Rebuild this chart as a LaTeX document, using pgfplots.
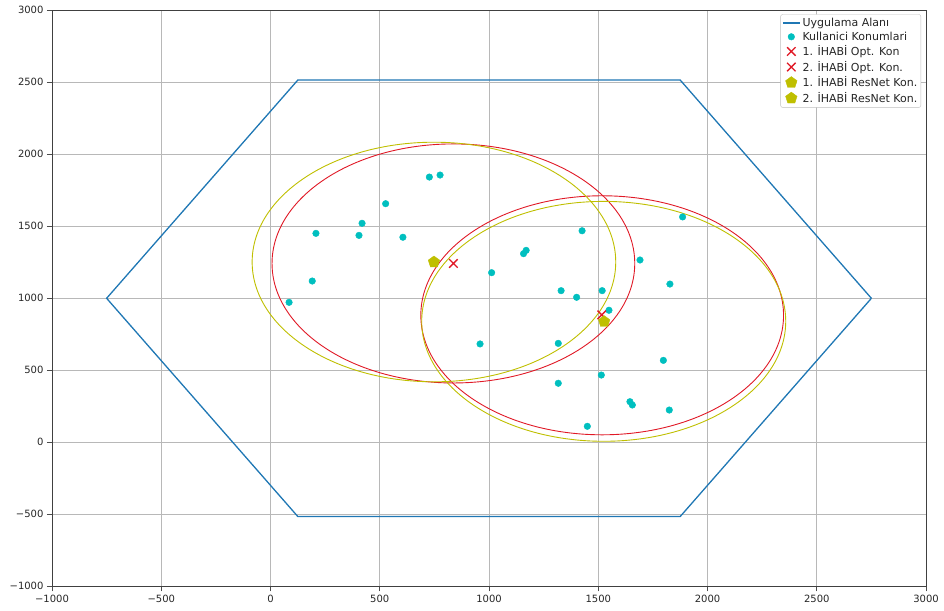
\documentclass[border=0pt]{standalone}
\usepackage{pgfplots}
\pgfplotsset{compat=1.18}
\usepackage{fontspec}
\setmainfont{DejaVu Sans}
\definecolor{tabblue}{HTML}{1F77B4}
\definecolor{mcyan}{rgb}{0,0.75,0.75}
\definecolor{myel}{rgb}{0.75,0.75,0}
\definecolor{mred}{rgb}{0.88,0.1,0.15}
\begin{document}
\begin{tikzpicture}
\useasboundingbox (-52pt,-23.7pt) rectangle (892pt,586.3pt);
\begin{axis}[
  at={(0,0)}, anchor=south west,
  scale only axis, width=874pt, height=576pt,
  xmin=-1000, xmax=3000, ymin=-1000, ymax=3000,
  xtick={-1000,-500,0,500,1000,1500,2000,2500,3000},
  xticklabels={−1000,−500,0,500,1000,1500,2000,2500,3000},
  ytick={-1000,-500,0,500,1000,1500,2000,2500,3000},
  yticklabels={−1000,−500,0,500,1000,1500,2000,2500,3000},
  grid=major, grid style={color=black!28, line width=0.6pt},
  tick align=outside, xtick pos=left, ytick pos=left,
  major tick length=5pt,
  tick style={black!70, line width=0.6pt},
  axis line style={black!75, line width=0.8pt},
  ticklabel style={font=\fontsize{10}{12}\selectfont, text=black!85},
  legend cell align=left,
  legend style={at={(1,1)}, anchor=north east, xshift=-5pt, yshift=-4pt,
    draw=black!25, rounded corners=2pt, font=\fontsize{11}{12}\selectfont,
    inner sep=1.5pt, row sep=0pt, text=black!85},
]
\addplot[tabblue, line width=1.3pt, mark=none] coordinates {
(2750,1000) (1875,2515.5) (125,2515.5) (-750,1000) (125,-515.5) (1875,-515.5) (2750,1000)};
\addlegendentry{Uygulama Alanı}
\addplot[only marks, mark=*, mark size=3.3pt, color=mcyan, mark options={draw=mcyan, fill=mcyan}] coordinates {
(727,1842) (776,1856) (527,1657) (419,1521) (208,1451) (405,1437) (606,1424)
(191,1120) (85,972) (1426,1469) (1158,1310) (1170,1333) (1012,1178)
(1886,1565) (1691,1266) (1828,1099) (1330,1053) (1401,1007) (1518,1053)
(1549,917) (959,683) (1317,687) (1798,569) (1514,467) (1317,410)
(1645,282) (1656,259) (1825,224) (1450,111)};
\addlegendentry{Kullanici Konumlari}
\addplot[only marks, mark=x, mark size=6pt, color=mred, line width=1.3pt] coordinates {(837,1242)};
\addlegendentry{1. İHABİ Opt. Kon}
\addplot[only marks, mark=x, mark size=6pt, color=mred, line width=1.3pt] coordinates {(1516,885)};
\addlegendentry{2. İHABİ Opt. Kon.}
\addplot[only marks, mark=pentagon*, mark size=6pt, color=myel, mark options={draw=myel, fill=myel}] coordinates {(748,1252)};
\addlegendentry{1. İHABİ ResNet Kon.}
\addplot[only marks, mark=pentagon*, mark size=6pt, color=myel, mark options={draw=myel, fill=myel}] coordinates {(1527,838)};
\addlegendentry{2. İHABİ ResNet Kon.}
\draw[mred, line width=0.9pt] (axis cs:837,1242) ellipse [x radius=830, y radius=830];
\draw[mred, line width=0.9pt] (axis cs:1518,882) ellipse [x radius=830, y radius=830];
\draw[myel, line width=0.9pt] (axis cs:748,1252) ellipse [x radius=832, y radius=832];
\draw[myel, line width=0.9pt] (axis cs:1525,840) ellipse [x radius=833, y radius=833];
\end{axis}
\end{tikzpicture}
\end{document}
